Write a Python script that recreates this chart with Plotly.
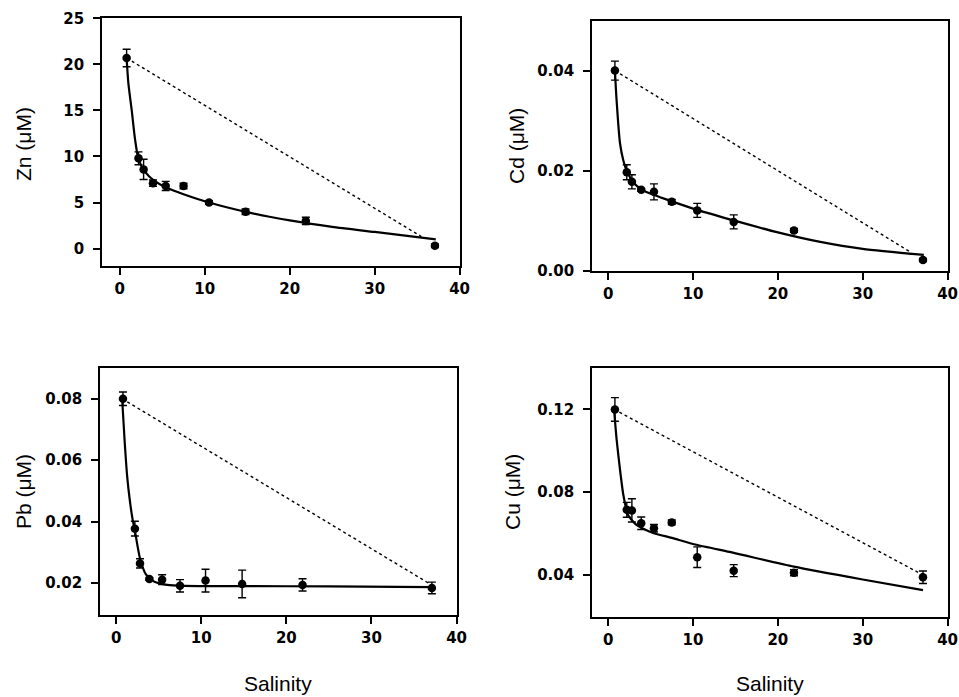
import plotly.graph_objects as go

# ---------------- data ----------------
salinity = [0.8, 2.2, 2.8, 3.9, 5.4, 7.5, 10.5, 14.8, 21.9, 37.1]

zn = [20.7, 9.8, 8.6, 7.1, 6.8, 6.8, 5.0, 4.0, 3.0, 0.3]
zn_err = [0.95, 0.7, 1.1, 0.35, 0.5, 0.3, 0.2, 0.3, 0.4, 0.2]
zn_fit_x = [0.8, 1.0, 1.4, 1.8, 2.2, 3.0, 4.0, 5.5, 7.5, 10.5, 15.0, 20.0, 25.0, 30.0, 37.2]
zn_fit_y = [20.7, 18.0, 15.0, 11.8, 9.7, 8.3, 7.4, 6.6, 5.9, 5.0, 3.95, 3.05, 2.35, 1.8, 1.0]
zn_mix_x = [0.8, 35.5]
zn_mix_y = [20.7, 1.3]

cd = [0.0400, 0.0197, 0.0178, 0.0162, 0.0158, 0.0138, 0.0121, 0.0098, 0.0081, 0.0022]
cd_err = [0.0019, 0.0015, 0.0014, 0.0003, 0.0016, 0.0005, 0.0014, 0.0014, 0.0004, 0.0003]
cd_fit_x = [0.8, 1.0, 1.4, 1.8, 2.2, 3.0, 4.0, 5.5, 7.5, 10.5, 15.0, 20.0, 25.0, 30.0, 37.2]
cd_fit_y = [0.0400, 0.0340, 0.0255, 0.0220, 0.0200, 0.0176, 0.0162, 0.0151, 0.0139, 0.0122, 0.0100, 0.0077, 0.0058, 0.0044, 0.0032]
cd_mix_x = [0.8, 35.5]
cd_mix_y = [0.0400, 0.0039]

pb = [0.0800, 0.0377, 0.0264, 0.0213, 0.0211, 0.0191, 0.0208, 0.0197, 0.0194, 0.0184]
pb_err = [0.0022, 0.0024, 0.0015, 0.0004, 0.0016, 0.0020, 0.0037, 0.0045, 0.0020, 0.0019]
pb_fit_x = [0.7, 1.0, 1.3, 1.6, 1.9, 2.2, 2.8, 3.5, 4.5, 6.0, 8.0, 15.0, 25.0, 37.2]
pb_fit_y = [0.0800, 0.0660, 0.0545, 0.0470, 0.0412, 0.0370, 0.0280, 0.0228, 0.0204, 0.0194, 0.0191, 0.0190, 0.0189, 0.0187]
pb_mix_x = [0.7, 37.0]
pb_mix_y = [0.0800, 0.0195]

cu = [0.1200, 0.0715, 0.0712, 0.0650, 0.0626, 0.0654, 0.0486, 0.0421, 0.0411, 0.0389]
cu_err = [0.0057, 0.0036, 0.0056, 0.0030, 0.0018, 0.0012, 0.0050, 0.0029, 0.0015, 0.0030]
cu_fit_x = [0.7, 1.0, 1.4, 1.8, 2.35, 3.3, 4.2, 5.3, 7.5, 10.4, 14.7, 21.9, 30.0, 37.1]
cu_fit_y = [0.1200, 0.1055, 0.0909, 0.0785, 0.0690, 0.0643, 0.0622, 0.0603, 0.0579, 0.0546, 0.0508, 0.0440, 0.0378, 0.0327]
cu_mix_x = [0.7, 37.1]
cu_mix_y = [0.1200, 0.0400]

x_ticks = [0, 10, 20, 30, 40]
panels = [
    dict(name="Zn (μM)", y=zn, err=zn_err, fx=zn_fit_x, fy=zn_fit_y, mx=zn_mix_x, my=zn_mix_y,
         yrange=[-1.9, 25.05], yticks=[0, 5, 10, 15, 20, 25], fmt="d", xrange=[-2.1, 40.05]),
    dict(name="Cd (μM)", y=cd, err=cd_err, fx=cd_fit_x, fy=cd_fit_y, mx=cd_mix_x, my=cd_mix_y,
         yrange=[0, 0.0499], yticks=[0.0, 0.02, 0.04], fmt=".2f", xrange=[-1.9, 40.05]),
    dict(name="Pb (μM)", y=pb, err=pb_err, fx=pb_fit_x, fy=pb_fit_y, mx=pb_mix_x, my=pb_mix_y,
         yrange=[0.0096, 0.090], yticks=[0.02, 0.04, 0.06, 0.08], fmt=".2f", xrange=[-1.9, 40.05]),
    dict(name="Cu (μM)", y=cu, err=cu_err, fx=cu_fit_x, fy=cu_fit_y, mx=cu_mix_x, my=cu_mix_y,
         yrange=[0.0197, 0.140], yticks=[0.04, 0.08, 0.12], fmt=".2f", xrange=[-1.9, 40.05]),
]

W, H = 959, 697
# panel boxes in pixels: (left, right, top, bottom)
boxes = [(102, 460, 18, 266), (592, 948, 21, 271), (100, 457, 368, 615), (592, 948, 368, 617)]
title_pos = [(24, 144), (516, 146), (23, 492), (512, 492)]

fig = go.Figure()
layout = {}
annotations = []
tickfont = dict(family="DejaVu Sans", size=15, color="black", weight="bold")

for i, (p, b) in enumerate(zip(panels, boxes)):
    k = "" if i == 0 else str(i + 1)
    xa, ya = "x" + k, "y" + k
    fig.add_trace(go.Scatter(x=p["mx"], y=p["my"], mode="lines", xaxis=xa, yaxis=ya,
                             line=dict(color="black", width=1.4, dash="dot"), showlegend=False))
    fig.add_trace(go.Scatter(x=p["fx"], y=p["fy"], mode="lines", xaxis=xa, yaxis=ya,
                             line=dict(color="black", width=2.2, shape="spline", smoothing=0.6),
                             showlegend=False))
    fig.add_trace(go.Scatter(x=salinity, y=p["y"], mode="markers", xaxis=xa, yaxis=ya,
                             marker=dict(color="black", size=8.5),
                             error_y=dict(type="data", array=p["err"], color="black",
                                          thickness=1.4, width=4),
                             showlegend=False))
    l, r, t, bt = b
    layout["xaxis" + k] = dict(
        domain=[l / W, r / W], anchor=ya, range=p["xrange"], tickvals=x_ticks,
        showline=True, linecolor="black", linewidth=1.6, mirror=True,
        ticks="outside", ticklen=7, tickwidth=1.5, tickcolor="black",
        ticklabelstandoff=1, ticklabeloverflow="allow", tickfont=tickfont,
        showgrid=False, zeroline=False, automargin=False)
    layout["yaxis" + k] = dict(
        domain=[1 - bt / H, 1 - t / H], anchor=xa, range=p["yrange"], tickvals=p["yticks"],
        tickformat=p["fmt"],
        showline=True, linecolor="black", linewidth=1.6, mirror=True,
        ticks="outside", ticklen=7, tickwidth=1.5, tickcolor="black",
        ticklabelstandoff=6, ticklabeloverflow="allow", tickfont=tickfont,
        showgrid=False, zeroline=False, automargin=False)
    tx, ty = title_pos[i]
    annotations.append(dict(text=p["name"], x=tx / W, y=1 - ty / H, xref="paper", yref="paper",
                            showarrow=False, textangle=-90, xanchor="center", yanchor="middle",
                            font=dict(family="Arial", size=21, color="black")))

for cx in (278, 770):
    annotations.append(dict(text="Salinity", x=cx / W, y=1 - 683 / H, xref="paper", yref="paper",
                            showarrow=False, xanchor="center", yanchor="middle",
                            font=dict(family="Arial", size=21, color="black")))

fig.update_layout(width=W, height=H, margin=dict(l=0, r=0, t=0, b=0, autoexpand=False),
                  paper_bgcolor="white", plot_bgcolor="white",
                  annotations=annotations, **layout)

fig.write_html(
    "out.html",
    config={"displayModeBar": False},
    post_script=(
        "document.documentElement.style.margin='0';"
        "document.documentElement.style.overflow='hidden';"
        "document.body.style.margin='0';"
        "document.body.style.overflow='hidden';"
        "var d=document.getElementById('{plot_id}');"
        "d.style.position='fixed';d.style.left='0px';d.style.top='0px';"
        "d.style.overflow='hidden';"
    ),
)
